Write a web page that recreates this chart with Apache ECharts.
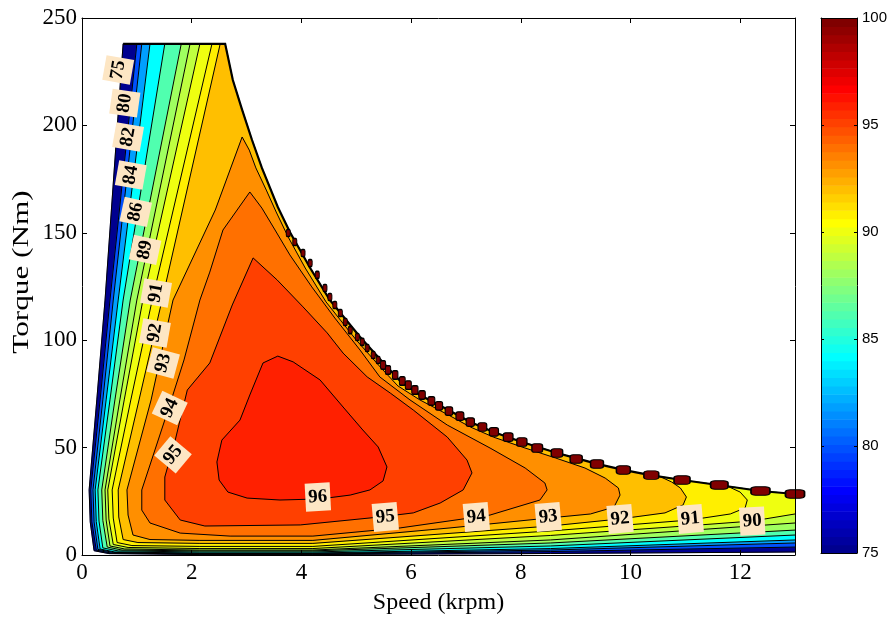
<!DOCTYPE html>
<html><head><meta charset="utf-8">
<script src="https://cdn.jsdelivr.net/npm/echarts@6/dist/echarts.min.js"></script>
<style>html,body{margin:0;padding:0;background:#fff}#c{width:892px;height:621px}</style>
</head><body><div id="c"></div>
<script>
// ---- data (speed in krpm, torque in Nm) ----
const levels = [75,80,82,84,86,88,89,90,91,92,93,94,95,96];
const closedFlags = [false,false,false,false,false,false,false,false,false,false,true,true,true,true];

const envelope = [[2.61,238],[2.75,221.1],[2.92,207.2],[3.10,193.2],[3.28,180.2],[3.57,162.0],[3.79,150.4],[4.16,133.6],[4.52,118.7],[5.07,101.5],[5.53,88.5],[5.80,81.0],[6.16,74.5],[6.68,67.5],[7.08,61.9],[7.50,57.3],[8.02,52.6],[8.66,47.5],[8.99,45.2],[9.39,42.4],[9.87,39.6],[10.36,37.2],[10.94,34.9],[11.60,32.6],[12.37,29.8],[13.0,28.4]];

const c75 = [[0.75,238],[0.42,118.7],[0.27,72.2],[0.13,30.3],[0.15,15.4],[0.22,2.0],[0.49,0.65],[2.15,0.2],[4.21,0.2],[8.54,0.7],[13,1.4]];
const c80 = [[1.00,238],[0.51,118.7],[0.33,72.2],[0.16,30.3],[0.18,15.4],[0.26,2.3],[0.53,0.9],[2.15,0.47],[4.21,0.47],[8.54,1.6],[13,3.7]];
const c82 = [[1.09,238],[0.57,118.7],[0.38,72.2],[0.20,30.3],[0.22,15.4],[0.29,2.6],[0.57,1.2],[2.15,0.7],[4.21,0.7],[8.54,2.3],[13,5.6]];
const c84 = [[1.24,238],[0.66,118.7],[0.44,72.2],[0.24,30.3],[0.26,15.6],[0.33,2.8],[0.60,1.4],[2.15,0.9],[4.21,0.9],[8.54,3.0],[13,7.0]];
const c86 = [[1.51,238],[0.75,118.7],[0.51,72.2],[0.29,30.3],[0.31,15.8],[0.38,3.3],[0.66,1.9],[2.15,1.4],[4.21,1.4],[8.54,4.2],[13,9.3]];
const c88 = [[1.81,238],[0.88,118.7],[0.60,72.2],[0.36,30.3],[0.38,16.1],[0.46,3.7],[0.73,2.3],[2.15,1.9],[4.21,1.9],[8.54,5.6],[13,11.6]];
const c89 = [[1.97,238],[1.00,118.7],[0.69,72.2],[0.42,30.3],[0.44,16.3],[0.51,4.2],[0.78,2.8],[2.15,2.3],[4.21,2.3],[8.54,7.0],[13,14.9]];
const c90 = [[2.15,238],[1.11,118.7],[0.77,72.2],[0.47,30.3],[0.49,16.8],[0.57,4.9],[0.84,3.5],[2.15,3.0],[4.21,3.0],[8.54,9.1],[11.27,14.0],[12.22,15.8],[13,19.1]];
const c91 = [[2.37,238],[1.28,118.7],[0.89,72.2],[0.55,30.3],[0.57,17.2],[0.64,5.8],[0.91,4.4],[2.15,4.0],[4.21,4.0],[8.54,11.2],[11.09,16.3],[11.82,19.1],[12.09,21.9],[12.13,25.6],[12.00,29.3],[11.78,31.9]];
const c92 = [[2.52,238],[1.46,118.7],[1.04,72.2],[0.66,30.3],[0.67,17.7],[0.75,7.2],[1.02,5.8],[2.15,5.4],[4.21,5.4],[8.54,13.5],[9.81,16.8],[10.63,19.6],[10.96,23.3],[11.02,27.0],[10.91,31.2],[10.75,34.0],[10.54,36.5]];
const c93 = [[2.92,194.6],[3.05,188.5],[3.17,180.2],[3.36,169.9],[3.54,159.7],[3.76,148.0],[4.07,133.6],[4.45,117.8],[5.00,100.1],[5.47,86.6],[5.76,78.7],[6.16,72.2],[6.68,65.2],[7.08,59.6],[7.50,54.9],[8.02,50.3],[8.63,45.2],[9.17,40.5],[9.54,35.8],[9.78,31.2],[9.81,27.9],[9.70,22.3],[9.27,19.1],[8.50,17.2],[6.71,12.6],[4.21,6.8],[2.15,6.8],[1.24,7.2],[0.93,9.3],[0.84,18.6],[0.82,30.3],[1.26,72.2],[1.66,118.7],[2.43,160.6]];
const c94 = [[3.06,169.0],[3.28,161.5],[3.52,151.3],[3.79,139.7],[4.19,124.8],[4.61,110.3],[5.07,95.4],[5.43,82.9],[5.98,72.2],[6.66,60.5],[7.44,49.8],[8.08,40.5],[8.44,33.5],[8.48,30.3],[8.35,25.6],[7.44,18.6],[7.20,17.7],[5.80,12.6],[4.21,8.8],[2.70,8.8],[1.79,10.2],[1.24,14.9],[1.09,20.9],[1.09,30.3],[1.33,48.9],[1.57,67.5],[1.86,90.8],[2.15,118.7],[2.33,131.7],[2.57,151.3]];
const c95 = [[3.12,138.3],[3.56,128.0],[4.03,115.5],[4.47,103.4],[4.76,94.0],[5.20,82.9],[5.62,75.4],[6.04,67.5],[6.66,54.9],[7.02,44.2],[7.11,38.2],[6.95,30.3],[6.53,24.2],[6.04,19.6],[5.43,17.7],[3.98,14.0],[2.24,13.5],[1.79,16.3],[1.51,25.6],[1.51,36.3],[1.70,53.5],[1.92,76.8],[2.33,89.4],[2.74,116.4]];
const c96 = [[3.57,92.6],[3.85,89.9],[4.34,81.5],[4.76,68.9],[5.12,58.2],[5.40,50.3],[5.56,41.0],[5.49,34.5],[5.25,30.3],[4.89,27.9],[4.34,26.1],[3.61,25.6],[3.01,26.5],[2.66,29.3],[2.50,34.9],[2.46,43.3],[2.55,53.5],[2.88,62.8],[3.06,74.5],[3.30,89.4]];
const contours = [c75,c80,c82,c84,c86,c88,c89,c90,c91,c92,c93,c94,c95,c96];

// dark red cells along the torque envelope
const edgeCells = [[3.76,149.9],[3.88,145.7],[4.03,140.6],[4.16,135.9],[4.29,130.4],[4.43,124.3],[4.52,120.1],[4.61,116.4],[4.71,112.7],[4.80,108.5],[4.89,104.7],[5.02,101.5],[5.11,99.2],[5.20,96.4],[5.31,93.1],[5.40,90.8],[5.49,88.5],[5.58,86.1],[5.71,83.8],[5.84,81.0],[5.95,79.1],[6.07,76.8],[6.20,74.5],[6.37,71.7],[6.51,69.4],[6.69,67.0],[6.89,64.7],[7.08,61.9],[7.30,59.6],[7.51,57.3],[7.77,54.9],[8.02,52.6],[8.30,49.8],[8.66,47.5],[9.01,44.7],[9.39,42.4],[9.87,39.6],[10.38,37.2],[10.94,34.9],[11.62,32.6],[12.37,29.8],[13.0,28.4]];

// contour labels
const labelText   = ['75','80','82','84','86','89','91','92','93','94','95','96','95','94','93','92','91','90'];
const labelSpeed  = [0.66,0.78,0.84,0.89,0.98,1.15,1.35,1.33,1.48,1.60,1.66,4.30,5.53,7.19,8.50,9.81,11.09,12.22];
const labelTorque = [225.8,210.4,194.6,176.9,159.7,142.0,122.0,103.4,89.4,68.4,46.6,27.0,17.7,17.7,17.7,16.8,16.8,15.8];
const labelAngle  = [80,82,80,80,78,78,80,80,75,65,50,3,5,5,5,5,5,3];

const colorbarMin = 75, colorbarMax = 100;

// ---- styling helpers ----
function jet64(i){ const k=i+1;
  const r = k<25?0:k<=40?(k-24)/16:k<=56?1:1-(k-56)/16;
  const g = k<9?0:k<=24?(k-8)/16:k<=40?1:k<=56?1-(k-40)/16:0;
  const b = k<=8?(k+8)/16:k<=24?1:k<=40?1-(k-24)/16:0;
  return 'rgb('+Math.round(r*255)+','+Math.round(g*255)+','+Math.round(b*255)+')';
}
function levelColor(L){ return jet64(Math.max(0,Math.min(63,Math.floor((L-colorbarMin)/(colorbarMax-colorbarMin)*64)))); }
function regionPolygon(i){
  const line = contours[i];
  if (closedFlags[i]) return line;
  const s0 = line[0][0], end = line[line.length-1];
  const toEdge = end[0] >= 13;
  const env = envelope.filter(p => p[0] > s0 && (toEdge || p[0] < end[0])).reverse();
  return line.concat(env);
}
const serif = '"Liberation Serif","Times New Roman",serif';
const sans = '"Liberation Sans",Arial,sans-serif';

const chart = echarts.init(document.getElementById('c'));
const axBase = {axisLine:{show:true,onZero:false,lineStyle:{color:'#000',width:1}},splitLine:{show:false},z:10};
chart.setOption({
  animation:false,
  backgroundColor:'#fff',
  grid:[{left:82,top:18,width:713,height:537},{left:821,top:18,width:36,height:535}],
  xAxis:[
    Object.assign({gridIndex:0,type:'value',min:0,max:13,interval:2,position:'bottom',
      name:'Speed (krpm)',nameLocation:'middle',nameGap:36,
      nameTextStyle:{fontFamily:serif,fontSize:24,color:'#000'},
      axisTick:{inside:true,length:5,lineStyle:{color:'#000'}},
      axisLabel:{fontFamily:serif,fontSize:23,color:'#000',margin:6,showMaxLabel:false}},axBase),
    Object.assign({gridIndex:0,type:'value',min:0,max:13,interval:2,position:'top',
      axisTick:{inside:true,length:5,lineStyle:{color:'#000'}},axisLabel:{show:false}},axBase),
    Object.assign({gridIndex:1,type:'value',min:0,max:1,position:'bottom',axisTick:{show:false},axisLabel:{show:false}},axBase),
    Object.assign({gridIndex:1,type:'value',min:0,max:1,position:'top',axisTick:{show:false},axisLabel:{show:false}},axBase)
  ],
  yAxis:[
    Object.assign({gridIndex:0,type:'value',min:0,max:250,interval:50,position:'left',
      axisTick:{inside:true,length:5,lineStyle:{color:'#000'}},
      axisLabel:{fontFamily:serif,fontSize:23,color:'#000',margin:5}},axBase),
    Object.assign({gridIndex:0,type:'value',min:0,max:250,interval:50,position:'right',
      axisTick:{inside:true,length:5,lineStyle:{color:'#000'}},axisLabel:{show:false}},axBase),
    Object.assign({gridIndex:1,type:'value',min:colorbarMin,max:colorbarMax,interval:5,position:'left',
      axisTick:{inside:true,length:3,lineStyle:{color:'#000'}},axisLabel:{show:false}},axBase),
    Object.assign({gridIndex:1,type:'value',min:colorbarMin,max:colorbarMax,interval:5,position:'right',
      axisTick:{inside:true,length:3,lineStyle:{color:'#000'}},
      axisLabel:{fontFamily:sans,fontSize:15,color:'#000',margin:5}},axBase)
  ],
  graphic:[{type:'text',x:22,y:272,rotation:Math.PI/2,scaleX:1.3,z:20,
    style:{text:'Torque (Nm)',font:'24px '+serif,fill:'#000',align:'center',verticalAlign:'middle'}}],
  series:[
    { // filled bands
      type:'custom',xAxisIndex:0,yAxisIndex:0,clip:true,z:1,silent:true,
      data:levels.map(L=>[0,0,L]),
      renderItem:(params,api)=>{
        const i=params.dataIndex, col=levelColor(levels[i]);
        return {type:'polygon',shape:{points:regionPolygon(i).map(p=>api.coord(p))},
          style:{fill:col,stroke:col,lineWidth:0.6}};
      }
    },
    { // contour lines
      type:'custom',xAxisIndex:0,yAxisIndex:0,clip:true,z:2,silent:true,
      data:levels.map(L=>[0,0,L]),
      renderItem:(params,api)=>{
        const i=params.dataIndex;
        const pts=contours[i].map(p=>api.coord(p));
        if (closedFlags[i]) pts.push(pts[0]);
        return {type:'polyline',shape:{points:pts},style:{fill:null,stroke:'#000',lineWidth:1}};
      }
    },
    { // envelope
      type:'custom',xAxisIndex:0,yAxisIndex:0,clip:true,z:3,silent:true,
      data:[[0,0]],
      renderItem:(params,api)=>{
        const pts=[[c75[0][0],envelope[0][1]]].concat(envelope).map(p=>api.coord(p));
        return {type:'polyline',shape:{points:pts},style:{fill:null,stroke:'#000',lineWidth:2.2}};
      }
    },
    { // edge cells
      type:'scatter',xAxisIndex:0,yAxisIndex:0,z:4,silent:true,
      data:edgeCells,
      symbol:'roundRect',
      symbolSize:(v)=>{const s=v[0]; return s<5.45?[4,7]:[Math.min(19,5+(s-5.45)*2.0),8.5];},
      itemStyle:{color:'#800000',borderColor:'#000',borderWidth:1.2,opacity:1}
    },
    { // contour labels
      type:'custom',xAxisIndex:0,yAxisIndex:0,clip:false,z:5,silent:true,
      data:labelText.map((t,i)=>[labelSpeed[i],labelTorque[i]]),
      renderItem:(params,api)=>{
        const i=params.dataIndex;
        const p=api.coord([api.value(0),api.value(1)]);
        return {type:'text',x:p[0],y:p[1],rotation:labelAngle[i]*Math.PI/180,
          style:{text:labelText[i],fill:'#000',font:'bold 19px '+serif,align:'center',verticalAlign:'middle',
            backgroundColor:'#FDE6C4',padding:[5,3,4,3]}};
      }
    },
    { // colorbar
      type:'custom',xAxisIndex:2,yAxisIndex:2,clip:true,z:1,silent:true,
      data:Array.from({length:64},(_,k)=>[0,colorbarMin]),
      renderItem:(params,api)=>{
        const k=params.dataIndex, step=(colorbarMax-colorbarMin)/64;
        const a=api.coord([0,colorbarMin+k*step]), b=api.coord([1,colorbarMin+(k+1)*step]);
        return {type:'rect',shape:{x:a[0],y:b[1],width:b[0]-a[0],height:a[1]-b[1]+0.6},style:{fill:jet64(k)}};
      }
    }
  ]
});
</script></body></html>
